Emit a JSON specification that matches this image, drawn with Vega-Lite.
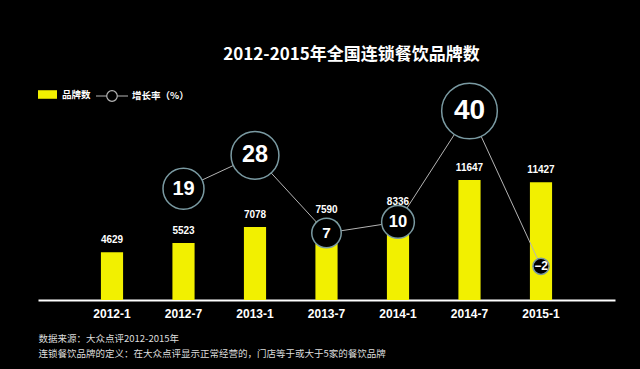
{
  "$schema": "https://vega.github.io/schema/vega-lite/v6.json",
  "width": 577,
  "height": 206,
  "autosize": {"type": "none"},
  "padding": {"left": 38, "top": 94, "right": 25, "bottom": 69},
  "background": "#000000",
  "config": {"view": {"stroke": null}, "font": "Noto Sans CJK SC"},
  "title": {
    "text": "2012-2015年全国连锁餐饮品牌数",
    "color": "#ffffff",
    "fontSize": 17,
    "fontWeight": "bold",
    "font": "Noto Sans CJK SC",
    "anchor": "middle",
    "dx": 25,
    "offset": 15
  },
  "data": {
    "values": [
      {"period": "2012-1", "brands": 4629, "growth": null},
      {"period": "2012-7", "brands": 5523, "growth": 19},
      {"period": "2013-1", "brands": 7078, "growth": 28},
      {"period": "2013-7", "brands": 7590, "growth": 7},
      {"period": "2014-1", "brands": 8336, "growth": 10},
      {"period": "2014-7", "brands": 11647, "growth": 40},
      {"period": "2015-1", "brands": 11427, "growth": -2}
    ]
  },
  "layer": [
    {
      "layer": [
        {
          "mark": {"type": "bar"},
          "encoding": {
            "x": {
              "field": "period",
              "type": "ordinal",
              "sort": null,
              "scale": {"paddingInner": 0.69, "paddingOuter": 0.88},
              "axis": {
                "title": ["数据来源：大众点评2012-2015年", "连锁餐饮品牌的定义：在大众点评显示正常经营的，门店等于或大于5家的餐饮品牌"],
                "labelAngle": 0,
                "labelColor": "#ffffff",
                "labelFontSize": 12,
                "labelFontWeight": "bold",
                "labelFont": "Liberation Sans",
                "labelPadding": 8,
                "ticks": false,
                "domainColor": "#ffffff",
                "domainWidth": 2,
                "titleColor": "#dddddd",
                "titleFontSize": 9.5,
                "titleFontWeight": "normal",
                "titleFont": "Noto Sans CJK SC",
                "titleAnchor": "start",
                "titleAlign": "left",
                "titleBaseline": "top",
                "titleX": 0,
                "titleY": 33,
                "titleLineHeight": 15
              }
            },
            "y": {
              "field": "brands",
              "type": "quantitative",
              "scale": {"domain": [0, 20000]},
              "axis": null
            },
            "color": {
              "datum": "品牌数",
              "type": "nominal",
              "scale": {"range": ["#f2f000"]},
              "legend": {
                "orient": "none",
                "legendX": 0,
                "legendY": -9,
                "title": null,
                "symbolType": "M-1,-0.45H1V0.45H-1Z",
                "symbolSize": 361,
                "symbolStrokeWidth": 0,
                "labelColor": "#ffffff",
                "labelFontSize": 9.5,
                "labelFontWeight": "bold",
                "labelFont": "Noto Sans CJK SC",
                "labelOffset": 5
              }
            }
          }
        },
        {
          "mark": {"type": "text", "dy": -7, "color": "#ffffff", "fontSize": 10, "fontWeight": "bold", "font": "Liberation Sans", "baseline": "bottom"},
          "encoding": {
            "x": {"field": "period", "type": "ordinal", "sort": null},
            "y": {"field": "brands", "type": "quantitative", "scale": {"domain": [0, 20000]}, "axis": null},
            "text": {"field": "brands", "type": "quantitative", "format": "d"}
          }
        }
      ]
    },
    {
      "transform": [{"filter": "datum.growth != null"}],
      "layer": [
        {
          "mark": {"type": "line", "strokeWidth": 1},
          "encoding": {
            "x": {"field": "period", "type": "ordinal", "sort": null},
            "y": {"field": "growth", "type": "quantitative", "scale": {"domain": [-11.1, 44.6]}, "axis": null},
            "stroke": {
              "datum": "增长率（%）",
              "type": "nominal",
              "scale": {"range": ["#b4b4b4"]},
              "legend": {
                "orient": "none",
                "legendX": 57,
                "legendY": -15,
                "title": null,
                "symbolType": "M-1,0H-0.33M0.33,0H1M0.33,0A0.33,0.33,0,1,1,-0.33,0A0.33,0.33,0,1,1,0.33,0",
                "symbolSize": 1024,
                "symbolFillColor": "#000000",
                "symbolStrokeWidth": 1.2,
                "labelColor": "#ffffff",
                "labelFontSize": 9.5,
                "labelFontWeight": "bold",
                "labelFont": "Noto Sans CJK SC",
                "labelOffset": 3
              }
            }
          }
        },
        {
          "mark": {"type": "circle", "fill": "#000000", "stroke": "#7a9aa2", "strokeWidth": 1.5, "opacity": 1},
          "encoding": {
            "x": {"field": "period", "type": "ordinal", "sort": null},
            "y": {"field": "growth", "type": "quantitative", "scale": {"domain": [-11.1, 44.6]}, "axis": null},
            "size": {"field": "growth", "type": "quantitative", "scale": {"domain": [-2, 40], "range": [260, 3100]}, "legend": null}
          }
        },
        {
          "mark": {"type": "text", "color": "#ffffff", "fontWeight": "bold", "font": "Liberation Sans", "baseline": "middle", "align": "center"},
          "encoding": {
            "x": {"field": "period", "type": "ordinal", "sort": null},
            "y": {"field": "growth", "type": "quantitative", "scale": {"domain": [-11.1, 44.6]}, "axis": null},
            "text": {"field": "growth", "type": "quantitative", "format": "d"},
            "size": {"field": "growth", "type": "quantitative", "scale": {"domain": [-2, 40], "range": [12, 28]}, "legend": null}
          }
        }
      ],
      "resolve": {"scale": {"size": "independent"}}
    }
  ],
  "resolve": {"scale": {"y": "independent"}}
}
